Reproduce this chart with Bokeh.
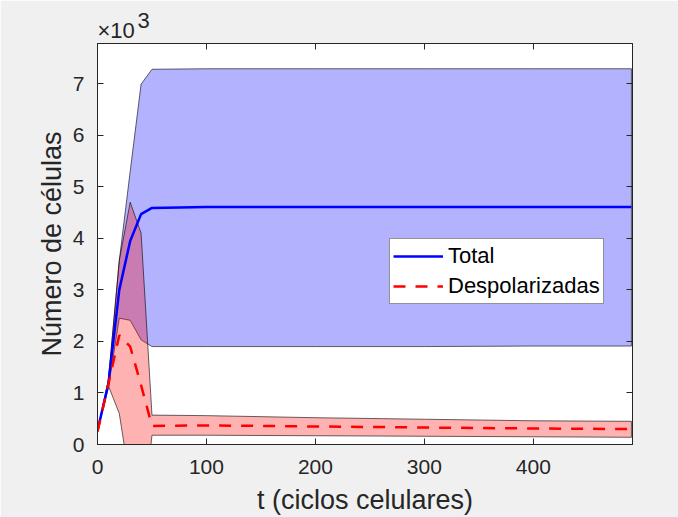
from bokeh.plotting import figure
from bokeh.models import (Range1d, FixedTicker, CustomJSTickFormatter, Legend, LegendItem,
                          LinearAxis, Title)
from bokeh.embed import file_html
from bokeh.resources import INLINE

# ---- data (cells) ----
t = [0, 10, 20, 30, 40, 50, 100, 200, 300, 400, 490]
total_mean  = [270, 1180, 3000, 3950, 4470, 4590, 4610, 4610, 4610, 4610, 4610]
total_upper = [270, 1250, 3570, 5300, 6990, 7280, 7290, 7290, 7290, 7290, 7290]
total_lower = [270, 1100, 2450, 2410, 2030, 1900, 1900, 1900, 1900, 1910, 1910]
depol_mean  = [250, 1170, 2120, 1900, 1150, 360, 370, 350, 330, 310, 300]
depol_upper = [250, 1250, 3570, 4700, 4100, 570, 560, 520, 490, 460, 450]
depol_lower = [250, 1140, 600, -750, -1800, 180, 180, 170, 160, 150, 140]

x_ticks = [0, 100, 200, 300, 400]
y_ticks = [0, 1000, 2000, 3000, 4000, 5000, 6000, 7000]
X_MAX = 491
Y_MAX = 7780

FONT = "Liberation Sans"
DARK = "#262626"

p = figure(width=678, height=517, output_backend="svg", toolbar_location=None,
           x_range=Range1d(0, X_MAX), y_range=Range1d(0, Y_MAX),
           min_border_left=97, min_border_right=46, min_border_top=43, min_border_bottom=73,
           title="3")
p.border_fill_color = "#f0f0f0"
p.background_fill_color = "white"
p.outline_line_color = DARK
p.outline_line_width = 1
p.xgrid.visible = False
p.ygrid.visible = False

# bands
p.patch(t + t[::-1], total_upper + total_lower[::-1], fill_color="#0000ff", fill_alpha=0.3,
        line_color="black", line_alpha=0.75, line_width=0.8)
p.patch(t + t[::-1], depol_upper + depol_lower[::-1], fill_color="#ff0000", fill_alpha=0.3,
        line_color="black", line_alpha=0.75, line_width=0.8)

r_total = p.line(t, total_mean, line_color="#0000ff", line_width=2.5)
r_depol = p.line(t, depol_mean, line_color="#ff0000", line_width=2.5, line_dash="12 10")

# axes
for ax in (p.xaxis[0], p.yaxis[0]):
    ax.major_tick_in = 6
    ax.major_tick_out = 0
    ax.minor_tick_line_color = None
    ax.axis_line_color = DARK
    ax.major_tick_line_color = DARK
    ax.major_label_text_font = FONT
    ax.major_label_text_font_size = "21px"
    ax.major_label_text_color = DARK
    ax.axis_label_text_font = FONT
    ax.axis_label_text_font_size = "27px"
    ax.axis_label_text_font_style = "normal"
    ax.axis_label_text_color = DARK

p.xaxis[0].ticker = FixedTicker(ticks=x_ticks)
p.yaxis[0].ticker = FixedTicker(ticks=y_ticks)
p.yaxis[0].formatter = CustomJSTickFormatter(code="return (tick/1000).toFixed(0);")
p.xaxis[0].axis_label = "t (ciclos celulares)"
p.yaxis[0].axis_label = "Número de células"
p.xaxis[0].major_label_standoff = 15
p.yaxis[0].major_label_standoff = 13
p.xaxis[0].axis_label_standoff = 8
p.yaxis[0].axis_label_standoff = 3

# mirrored ticks on top and right
top = LinearAxis(ticker=FixedTicker(ticks=x_ticks), major_label_text_font_size="0px",
                 major_label_standoff=0,
                 major_tick_in=6, major_tick_out=0, minor_tick_line_color=None,
                 axis_line_color=DARK, major_tick_line_color=DARK)
right = LinearAxis(ticker=FixedTicker(ticks=y_ticks), major_label_text_font_size="0px",
                   major_label_standoff=0,
                   major_tick_in=6, major_tick_out=0, minor_tick_line_color=None,
                   axis_line_color=DARK, major_tick_line_color=DARK)
p.add_layout(top, "above")
p.add_layout(right, "right")

# exponent "×10" with superscript "3"
t_x10 = Title(text="×10", align="left", offset=0, standoff=2, text_font=FONT,
              text_font_size="22px", text_font_style="normal", text_color=DARK)
p.add_layout(t_x10, "above")

p.title.align = "left"
p.title.offset = 40
p.title.text_font = FONT
p.title.text_font_size = "22px"
p.title.text_font_style = "normal"
p.title.text_color = DARK
try:
    p.title.standoff = -27
except Exception:
    p.title.standoff = 0

legend = Legend(items=[LegendItem(label="Total", renderers=[r_total]),
                       LegendItem(label="Despolarizadas", renderers=[r_depol])],
                location=(292, 140))
legend.label_text_font = FONT
legend.label_text_font_size = "22px"
legend.label_text_color = "black"
legend.glyph_width = 50
legend.glyph_height = 28
legend.label_height = 28
legend.label_standoff = 5
legend.padding = 3
legend.spacing = 2
legend.margin = 0
legend.border_line_color = DARK
legend.border_line_width = 1
legend.background_fill_color = "white"
legend.background_fill_alpha = 1
p.add_layout(legend)

open("out.html", "w").write(file_html(p, INLINE))
